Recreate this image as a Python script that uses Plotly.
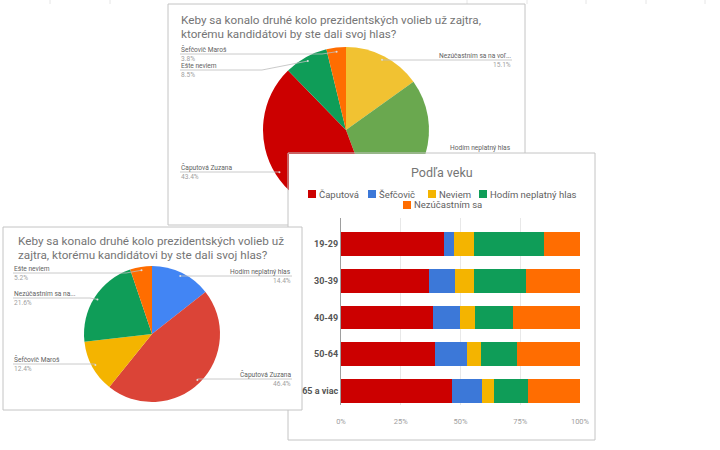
import math
import plotly.graph_objects as go

W, H = 720, 450


def X(px):
    return px / W


def Y(py):
    return 1 - py / H


# ---------------- data ----------------
pie_a_labels = ["Nezúčastním sa na voľbách", "Hodím neplatný hlas", "Čaputová Zuzana",
                "Ešte neviem", "Šefčovič Maroš"]
pie_a_shown = ["Nezúčastním sa na voľ...", "Hodím neplatný hlas", "Čaputová Zuzana",
               "Ešte neviem", "Šefčovič Maroš"]
pie_a_values = [15.1, 29.2, 43.4, 8.5, 3.8]
pie_a_colors = ["#F1C232", "#6AA84F", "#CC0000", "#0F9D58", "#FF6D01"]

pie_b_labels = ["Hodím neplatný hlas", "Čaputová Zuzana", "Šefčovič Maroš",
                "Nezúčastním sa na voľbách", "Ešte neviem"]
pie_b_shown = ["Hodím neplatný hlas", "Čaputová Zuzana", "Šefčovič Maroš",
               "Nezúčastním sa na...", "Ešte neviem"]
pie_b_values = [14.4, 46.4, 12.4, 21.6, 5.2]
pie_b_colors = ["#4285F4", "#DB4437", "#F4B400", "#0F9D58", "#FF6D00"]

age_groups = ["19-29", "30-39", "40-49", "50-64", "65 a viac"]
bar_series = ["Čaputová", "Šefčovič", "Neviem", "Hodím neplatný hlas", "Nezúčastním sa"]
caputova = [43.2, 36.8, 38.4, 39.3, 46.4]
sefcovic = [4.0, 10.8, 11.5, 13.5, 12.4]
neviem = [8.5, 8.1, 6.1, 5.8, 5.3]
neplatny = [29.4, 21.6, 15.9, 15.1, 14.3]
nezucastnim = [14.9, 22.7, 28.1, 26.3, 21.6]
bar_values = [caputova, sefcovic, neviem, neplatny, nezucastnim]
bar_colors = ["#CC0000", "#3C78D8", "#F4B400", "#0F9D58", "#FF6D01"]
x_ticks = [0, 25, 50, 75, 100]
x_tick_labels = ["0%", "25%", "50%", "75%", "100%"]

title_a_lines = ["Keby sa konalo druhé kolo prezidentských volieb už zajtra,",
                 "ktorému kandidátovi by ste dali svoj hlas?"]
title_b_lines = ["Keby sa konalo druhé kolo prezidentských volieb už",
                 "zajtra, ktorému kandidátovi by ste dali svoj hlas?"]
title_bar = "Podľa veku"

# ---------------- layout geometry ----------------
FONT = "Roboto, Arial, sans-serif"
BORDER = "#C4C4C4"
TITLE_C = "#757575"
NAME_C = "#616161"
PCT_C = "#A0A0A0"

panel_a = (168, 4, 525, 225)
panel_c = (288, 153, 595, 440)
panel_b = (3, 227, 302, 410)

pie_a_c, pie_a_r = (346, 130), 83
pie_b_c, pie_b_r = (152, 334), 68

fig = go.Figure()

fig.add_trace(go.Pie(
    labels=pie_a_labels, values=pie_a_values, sort=False, direction="clockwise",
    rotation=0, marker=dict(colors=pie_a_colors, line=dict(width=0)),
    textinfo="none", showlegend=False, hoverinfo="label+percent",
    domain=dict(x=[X(pie_a_c[0] - pie_a_r), X(pie_a_c[0] + pie_a_r)],
                y=[Y(pie_a_c[1] + pie_a_r), Y(pie_a_c[1] - pie_a_r)]),
))
fig.add_trace(go.Pie(
    labels=pie_b_labels, values=pie_b_values, sort=False, direction="clockwise",
    rotation=0, marker=dict(colors=pie_b_colors, line=dict(width=0)),
    textinfo="none", showlegend=False, hoverinfo="label+percent",
    domain=dict(x=[X(pie_b_c[0] - pie_b_r), X(pie_b_c[0] + pie_b_r)],
                y=[Y(pie_b_c[1] + pie_b_r), Y(pie_b_c[1] - pie_b_r)]),
))

for name, vals, col in zip(bar_series, bar_values, bar_colors):
    fig.add_trace(go.Bar(
        y=age_groups, x=vals, name=name, orientation="h",
        marker=dict(color=col, line=dict(width=0)), showlegend=False,
    ))

shapes = []
annotations = []


def rect(box, fill="white", line=BORDER, layer="below", width=1):
    x0, y0, x1, y1 = box
    return dict(type="rect", xref="paper", yref="paper", x0=X(x0), x1=X(x1),
                y0=Y(y1), y1=Y(y0), fillcolor=fill,
                line=dict(color=line, width=width), layer=layer)


def seg(x0, y0, x1, y1, color=BORDER, width=1, layer="above"):
    return dict(type="line", xref="paper", yref="paper", x0=X(x0), x1=X(x1),
                y0=Y(y0), y1=Y(y1), line=dict(color=color, width=width), layer=layer)


def path(pts, color="#BDBDBD", width=0.8, layer="above"):
    d = "M" + " L".join(f"{X(px)},{Y(py)}" for px, py in pts)
    return dict(type="path", xref="paper", yref="paper", path=d,
                line=dict(color=color, width=width), layer=layer)


def text(px, py, s, size, color, anchor="left", weight="normal"):
    annotations.append(dict(
        x=X(px), y=Y(py), xref="paper", yref="paper", text=s, showarrow=False,
        xanchor=anchor, yanchor="middle", borderpad=0,
        font=dict(family=FONT, size=size, color=color, weight=weight)))


# faint spreadsheet grid behind the panels
for gx in [50, 110, 467, 527, 586, 646, 705]:
    shapes.append(seg(gx, 0, gx, 4, color="#E6E6E6", layer="below"))

# panels (order = stacking)
shapes.append(rect(panel_a))
shapes.append(rect(panel_c, line="rgba(0,0,0,0)"))
shapes.append(rect(panel_b))

# cover the part of pie A lying under panel C
shapes.append(rect((289, 154, 440, 216), line="rgba(0,0,0,0)", layer="above"))
cx0, cy0, cx1, cy1 = panel_c
shapes.append(seg(cx0, cy0, cx1, cy0))
shapes.append(seg(cx1, cy0, cx1, cy1))
shapes.append(seg(cx0, cy1, cx1, cy1))
shapes.append(seg(cx0, cy0, cx0, panel_b[1]))
shapes.append(seg(cx0, panel_b[3], cx0, cy1))


def slice_points(values, center, r, frac=0.95):
    total = sum(values)
    acc = 0
    pts = []
    for v in values:
        mid = (acc + v / 2) / total * 2 * math.pi
        acc += v
        pts.append((center[0] + frac * r * math.sin(mid), center[1] - frac * r * math.cos(mid)))
    return pts


NAME_SIZE = 6.6
# ---- pie A labels ----
dots_a = slice_points(pie_a_values, pie_a_c, pie_a_r)
label_a = {  # index: (side, label x, line y, bend x)
    0: ("right", 512, 60, None),
    2: ("left", 180, 172, None),
    3: ("left", 180, 70, 262),
    4: ("left", 180, 54, 322),
}
for i, (side, lx, ly, bx) in label_a.items():
    dx, dy = dots_a[i]
    if bx is None:
        shapes.append(path([(lx, ly), (dx, ly), (dx, dy)]))
    else:
        shapes.append(path([(lx, ly), (bx, ly), (dx, dy)]))
    text(lx, ly - 4.3, pie_a_shown[i], NAME_SIZE, NAME_C, side)
    text(lx, ly + 4.6, f"{pie_a_values[i]:.1f}%", NAME_SIZE, PCT_C, side)
    shapes.append(dict(type="circle", xref="paper", yref="paper",
                       x0=X(dx - 1), x1=X(dx + 1), y0=Y(dy + 1), y1=Y(dy - 1),
                       fillcolor="#DDDDDD", line=dict(width=0), layer="above"))
# label 1 (partly hidden by the front panel)
text(512, 148, pie_a_shown[1], NAME_SIZE, NAME_C, "right")

# ---- pie B labels ----
dots_b = slice_points(pie_b_values, pie_b_c, pie_b_r)
label_b = {
    0: ("right", 292, 276, None),
    1: ("right", 292, 379, None),
    2: ("left", 13, 364, None),
    3: ("left", 13, 298, 90),
    4: ("left", 13, 273, 126),
}
for i, (side, lx, ly, bx) in label_b.items():
    dx, dy = dots_b[i]
    if bx is None:
        shapes.append(path([(lx, ly), (dx, ly), (dx, dy)]))
    else:
        shapes.append(path([(lx, ly), (bx, ly), (dx, dy)]))
    text(lx, ly - 4.3, pie_b_shown[i], NAME_SIZE, NAME_C, side)
    text(lx, ly + 4.6, f"{pie_b_values[i]:.1f}%", NAME_SIZE, PCT_C, side)
    shapes.append(dict(type="circle", xref="paper", yref="paper",
                       x0=X(dx - 1), x1=X(dx + 1), y0=Y(dy + 1), y1=Y(dy - 1),
                       fillcolor="#DDDDDD", line=dict(width=0), layer="above"))

# ---- titles ----
TS = 11.7
text(180, 20, title_a_lines[0], TS, TITLE_C)
text(180, 34, title_a_lines[1], TS, TITLE_C)
text(17, 241, title_b_lines[0], TS, TITLE_C)
text(17, 255, title_b_lines[1], TS, TITLE_C)
text(442, 173, title_bar, 12.5, TITLE_C, "center")

# ---- manual legend for the bar panel ----
legend_pos = [(312, 194), (372, 194), (432, 194), (483, 194), (407, 205)]
for (lx, ly), name, col in zip(legend_pos, bar_series, bar_colors):
    shapes.append(dict(type="rect", xref="paper", yref="paper",
                       x0=X(lx - 4), x1=X(lx + 4), y0=Y(ly + 4), y1=Y(ly - 4),
                       fillcolor=col, line=dict(width=0), layer="above"))
    text(lx + 6, ly, name, 9.5, "#616161")

fig.update_layout(
    width=W, height=H, margin=dict(l=0, r=0, t=0, b=0, pad=0, autoexpand=False),
    paper_bgcolor="white", plot_bgcolor="rgba(0,0,0,0)",
    barmode="stack", bargap=0.35,
    font=dict(family=FONT),
    shapes=shapes, annotations=annotations, showlegend=False,
    xaxis=dict(domain=[X(341), X(580)], range=[0, 100], tickvals=x_ticks,
               ticktext=x_tick_labels, showgrid=True, gridcolor="#E8E8E8",
               zeroline=False, showline=False, ticks="outside", ticklen=9,
               tickcolor="rgba(0,0,0,0)", automargin=False,
               tickfont=dict(family=FONT, size=7.5, color="#9E9E9E"),
               fixedrange=True),
    yaxis=dict(domain=[Y(405), Y(218)], range=[4.38, -0.707],
               showline=True, linecolor="#9E9E9E", linewidth=1,
               showgrid=False, zeroline=False, ticks="", automargin=False,
               tickfont=dict(family=FONT, size=9, color="#555555", weight="bold"),
               fixedrange=True),
)

fig.write_html("out.html")
